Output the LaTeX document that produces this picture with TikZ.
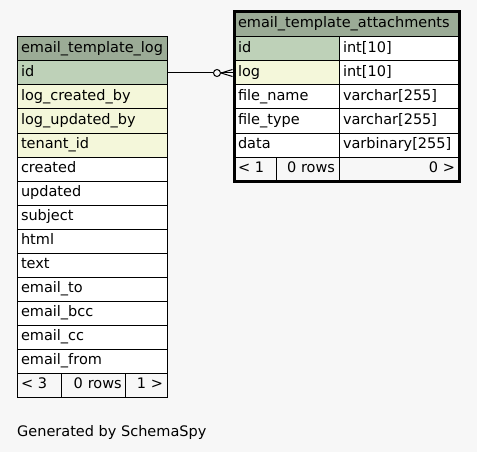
\documentclass[tikz,border=0pt]{standalone}
\usepackage{fontspec}
\setmainfont{DejaVu Sans}
\usetikzlibrary{positioning}

\definecolor{hdrgreen}{HTML}{9BAB96}
\definecolor{pkgreen}{HTML}{BED1B8}
\definecolor{fkyellow}{HTML}{F4F7DA}
\definecolor{pagegray}{HTML}{F7F7F7}

\begin{document}
\begin{tikzpicture}[
  x=1pt, y=-1pt,
  node distance=0pt,
  font=\fontsize{14.5}{17}\selectfont,
  cell/.style={draw, rectangle, line width=1pt, fill=#1, minimum height=24pt,
    inner xsep=4pt, inner ysep=0pt, outer sep=0pt, text height=10.5pt, text depth=3pt,
    align=left, anchor=north west},
  hdr/.style={cell=hdrgreen},
  pk/.style={cell=pkgreen},
  fk/.style={cell=fkyellow},
  col/.style={cell=white},
  foot/.style={cell=pagegray},
  ltab/.style={text width=142pt},
]

% page background and size
\fill[pagegray] (0,0) rectangle (477,452);
\useasboundingbox (0,0) rectangle (477,452);

% Table email_template_log
\node[hdr, ltab] (ltitle) at (17,37) {email\_template\_log};
\node[pk, ltab, below=of ltitle] (lid) {id};
\node[fk, ltab, below=of lid] (lcreatedby) {log\_created\_by};
\node[fk, ltab, below=of lcreatedby] (lupdatedby) {log\_updated\_by};
\node[fk, ltab, below=of lupdatedby] (ltenant) {tenant\_id};
\node[col, ltab, below=of ltenant] (lcreated) {created};
\node[col, ltab, below=of lcreated] (lupdated) {updated};
\node[col, ltab, below=of lupdated] (lsubject) {subject};
\node[col, ltab, below=of lsubject] (lhtml) {html};
\node[col, ltab, below=of lhtml] (ltext) {text};
\node[col, ltab, below=of ltext] (lto) {email\_to};
\node[col, ltab, below=of lto] (lbcc) {email\_bcc};
\node[col, ltab, below=of lbcc] (lcc) {email\_cc};
\node[col, ltab, below=of lcc] (lfrom) {email\_from};
\node[foot, text width=36.7pt] (lparents) at (lfrom.south west) {< 3};
\node[foot, text width=56pt, align=right] (lrows) at (lparents.north east) {0 rows};
\node[foot, text width=33.3pt, align=right] (lchildren) at (lrows.north east) {1 >};

% Table email_template_attachments
\node[hdr, text width=217pt, minimum height=25.5pt] (atitle) at (234,11.5) {email\_template\_attachments};
\node[pk, text width=97pt] (aid) at (atitle.south west) {id};
\node[fk, text width=97pt, below=of aid] (alog) {log};
\node[col, text width=97pt, below=of alog] (aname) {file\_name};
\node[col, text width=97pt, below=of aname] (atype) {file\_type};
\node[col, text width=97pt, below=of atype] (adata) {data};
\node[col, text width=112pt, right=of aid] (aidtype) {int[10]};
\node[col, text width=112pt, right=of alog] (alogtype) {int[10]};
\node[col, text width=112pt, right=of aname] (anametype) {varchar[255]};
\node[col, text width=112pt, right=of atype] (atypetype) {varchar[255]};
\node[col, text width=112pt, right=of adata] (adatatype) {varbinary[255]};
\node[foot, text width=34pt] (aparents) at (adata.south west) {< 1};
\node[foot, text width=55pt, align=right] (arows) at (aparents.north east) {0 rows};
\node[foot, text width=112pt, align=right] (achildren) at (arows.north east) {0 >};
\draw[line width=3pt] (atitle.north west) rectangle (achildren.south east);

% Relationship: log -> id (zero or many)
\node[circle, draw, line width=1pt, fill=pagegray, minimum size=7pt, inner sep=0pt]
  (optmark) at ([xshift=-17pt]alog.west) {};
\draw[line width=1pt] (lid.east) -- (optmark);
\draw[line width=1pt] (optmark.east) -- ([xshift=-1.5pt]alog.west);
\draw[line width=1pt] (optmark.east) -- ([xshift=-1.5pt, yshift=3.5pt]alog.west);
\draw[line width=1pt] (optmark.east) -- ([xshift=-1.5pt, yshift=-3.5pt]alog.west);

% Footer text
\node[anchor=west, inner sep=0pt] (credit) at (17,432) {Generated by SchemaSpy};

\end{tikzpicture}
\end{document}
